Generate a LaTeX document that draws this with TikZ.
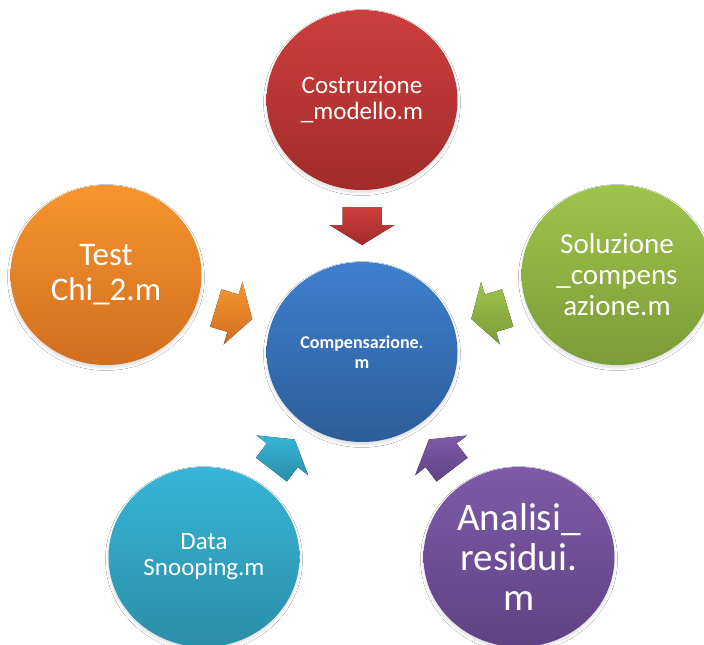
\documentclass[tikz,border=0pt]{standalone}
\usepackage{fontspec}
\setmainfont{Carlito}
\usetikzlibrary{calc,shapes.geometric,shadows.blur}
\definecolor{redT}{HTML}{CD3F3C}\definecolor{redB}{HTML}{A12B2B}
\definecolor{oraT}{HTML}{F8952F}\definecolor{oraB}{HTML}{D06E1F}
\definecolor{greT}{HTML}{9DC44B}\definecolor{greB}{HTML}{7B9C38}
\definecolor{teaT}{HTML}{37B5D7}\definecolor{teaB}{HTML}{2A8EA7}
\definecolor{purT}{HTML}{7F5AA8}\definecolor{purB}{HTML}{5E4284}
\definecolor{bluT}{HTML}{3E80CE}\definecolor{bluB}{HTML}{2D5D9A}
\tikzset{
  bubble/.style={ellipse, minimum width=191pt, minimum height=180pt, inner sep=0pt,
    text=white, align=center,
    blur shadow={shadow xshift=0pt, shadow yshift=-2.5pt, shadow blur radius=3pt, shadow opacity=14}},
}
\newcommand{\blockarrow}[4]{%
  \coordinate (am) at ($(#1)!0.5!(#2)$);
  \coordinate (atp) at ($(am)!19pt!(#2)$);
  \coordinate (ahb) at ($(am)!1pt!180:(#2)$);
  \coordinate (atl) at ($(am)!19pt!180:(#2)$);
  \fill[top color=#3, bottom color=#4]
    (atp) -- ($(ahb)!32.5pt!90:(atp)$) -- ($(ahb)!19.5pt!90:(atp)$)
    -- ($(atl)!19.5pt!90:(am)$) -- ($(atl)!19.5pt!-90:(am)$)
    -- ($(ahb)!19.5pt!-90:(atp)$) -- ($(ahb)!32.5pt!-90:(atp)$) -- cycle;
}
\begin{document}
\begin{tikzpicture}[x=1pt,y=-1pt]
\useasboundingbox (0,0) rectangle (704,645);
\fill[white] (0,0) rectangle (704,645);
\node[bubble, top color=bluT, bottom color=bluB,
  font=\fontsize{18}{20}\selectfont\bfseries] (cen) at (362,352) {Compensazione.\\m};
\node[bubble, top color=redT, bottom color=redB,
  font=\fontsize{25}{26}\selectfont] (red) at (362,100) {Costruzione\\\_modello.m};
\node[bubble, top color=oraT, bottom color=oraB,
  font=\fontsize{33}{35}\selectfont] (ora) at (106,275) {Test\\Chi\_2.m};
\node[bubble, top color=greT, bottom color=greB,
  font=\fontsize{29}{31}\selectfont] (gre) at (617,275) {Soluzione\\\_compens\\azione.m};
\node[bubble, top color=teaT, bottom color=teaB,
  font=\fontsize{25}{26}\selectfont] (tea) at (204,557) {Data\\Snooping.m};
\node[bubble, top color=purT, bottom color=purB,
  font=\fontsize{39}{40}\selectfont] (pur) at (519,557) {Analisi\_\\residui.\\m};
\blockarrow{red}{cen}{redT}{redB}
\blockarrow{ora}{cen}{oraT}{oraB}
\blockarrow{gre}{cen}{greT}{greB}
\blockarrow{tea}{cen}{teaT}{teaB}
\blockarrow{pur}{cen}{purT}{purB}
\end{tikzpicture}
\end{document}
